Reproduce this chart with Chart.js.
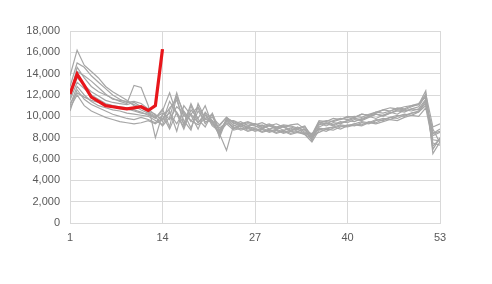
<!DOCTYPE html>
<html>
<head>
<meta charset="utf-8">
<script src="https://cdn.jsdelivr.net/npm/chart.js@4"></script>
<style>
  html, body { margin: 0; padding: 0; background: #fff; }
  #wrap { width: 492px; height: 284px; }
</style>
</head>
<body>
<div id="wrap"><canvas id="chart" width="492" height="284"></canvas></div>
<script>
// week numbers along the x axis
const weeks = Array.from({ length: 53 }, (_, i) => i + 1);
const xTicks = [1, 14, 27, 40, 53];
const yTicks = [0, 2000, 4000, 6000, 8000, 10000, 12000, 14000, 16000, 18000];

// current year (red), only the first 14 weeks
const current = [12100, 13950, 12900, 11800, 11400, 11000, 10900, 10800, 10700, 10800, 10900, 10550, 11000, 16300];

// previous years (grey), weeks 1-53
const yearA = [13800, 16200, 14800, 14200, 13600, 12800, 12300, 11900, 11500, 11000, 10600, 10300, 9900,
    10500, 12200, 10200, 9000, 11000, 9400, 10300, 9100, 8600, 9600,
    9600, 9300, 9500, 9200, 9400, 9100, 9300, 9000, 9200, 9300, 8800, 8300,
    9600, 9500, 9800, 9700, 10000, 9900, 10200, 10100, 10400, 10600, 10500, 10800, 10700, 11000, 11100,
    12400, 6500, 7600];
const yearB = [12800, 15000, 14600, 13800, 13200, 12600, 12000, 11600, 11300, 11400, 11200, 10700, 10100,
    9700, 10800, 11500, 9600, 8700, 11200, 9800, 9400, 8300, 9800,
    9100, 9300, 8900, 9000, 9200, 8800, 9000, 8700, 8900, 8600, 8800, 7700,
    9200, 9400, 9200, 9500, 9400, 9700, 9600, 9900, 10200, 10000, 10300, 10500, 10400, 10700, 10900,
    12000, 7200, 7900];
const yearC = [11800, 14600, 13600, 12800, 12300, 12000, 11700, 11400, 11200, 12900, 12700, 11000, 8000,
    10200, 10600, 11800, 9200, 10200, 10900, 9700, 9900, 9200, 9900,
    9400, 9000, 9300, 9100, 8800, 9200, 8900, 9100, 8700, 9000, 8500, 8000,
    9000, 9300, 9100, 9400, 9600, 9500, 9800, 10000, 9800, 10100, 10400, 10200, 10600, 10500, 10700,
    11600, 8400, 8800];
const yearD = [11500, 13200, 12600, 12000, 11600, 11200, 11000, 10800, 10700, 10500, 10300, 10200, 9800,
    10700, 9000, 11900, 10400, 9500, 10800, 9300, 10200, 8000, 9700,
    8900, 9100, 8700, 8900, 8600, 8800, 8500, 8700, 8400, 8600, 8300, 7600,
    8700, 8900, 9000, 8800, 9100, 9300, 9200, 9500, 9400, 9700, 9900, 9800, 10100, 10300, 10400,
    11300, 8400, 8600];
const yearE = [11000, 12800, 12000, 11400, 11000, 10800, 10600, 10500, 10300, 10200, 10100, 10000, 9600,
    9200, 10500, 8600, 11000, 10100, 8800, 10400, 9600, 8400, 6800,
    9200, 8800, 9000, 8700, 8900, 8600, 8800, 8500, 8700, 8800, 8400, 8100,
    8500, 8800, 8700, 9000, 9200, 9100, 9400, 9300, 9600, 9800, 9700, 10000, 10200, 10100, 10400,
    11000, 8800, 7500];
const yearF = [10500, 12500, 11600, 11100, 10800, 10500, 10200, 10000, 9800, 9700, 9900, 9700, 9400,
    10100, 8800, 10400, 9300, 11200, 9700, 9000, 10300, 8700, 9600,
    8800, 9200, 9000, 9300, 8900, 9100, 8800, 9000, 8600, 8900, 8700, 8200,
    9400, 9100, 9400, 9300, 9600, 9800, 9700, 10000, 10200, 10100, 10300, 10600, 10500, 10700, 10600,
    11200, 7800, 7700];
const yearG = [12000, 13600, 12900, 12300, 11900, 11500, 11300, 11200, 11100, 11300, 10900, 10500, 10200,
    9500, 11400, 10300, 8800, 10600, 9800, 11000, 9200, 9100, 9900,
    9300, 9500, 9100, 9300, 9000, 9200, 8900, 9100, 9000, 8800, 9000, 8200,
    9500, 9300, 9600, 9800, 9700, 9900, 10200, 10100, 10300, 10600, 10800, 10700, 10900, 11000, 11200,
    11800, 6900, 8000];
const yearH = [11200, 12200, 11800, 11500, 11300, 11100, 11000, 10900, 10800, 10600, 10400, 10100, 9900,
    10300, 9700, 10900, 10300, 8900, 10500, 9500, 9600, 8900, 9400,
    9000, 8700, 8900, 8600, 8800, 8500, 8700, 8400, 8600, 8500, 8300, 7900,
    8900, 8800, 9000, 9200, 9100, 9300, 9500, 9400, 9700, 9600, 9900, 10100, 10000, 10300, 10500,
    11500, 8200, 8500];
const yearI = [10800, 12000, 11000, 10500, 10200, 9900, 9700, 9500, 9400, 9300, 9400, 9600, 9300,
    9800, 10300, 9300, 10500, 9600, 9200, 9800, 10200, 8500, 9300,
    8700, 8900, 8600, 8800, 8500, 8700, 8400, 8600, 8300, 8500, 8400, 8400,
    8800, 8600, 8900, 9100, 9000, 9200, 9100, 9400, 9300, 9500, 9700, 9600, 9900, 10100, 10000,
    10800, 7500, 7300];
const yearJ = [11600, 14200, 13800, 13300, 12700, 12100, 11600, 11500, 11400, 11100, 10800, 10400, 10000,
    9100, 9900, 12200, 10000, 10200, 9400, 10100, 9500, 8200, 9800,
    9500, 9200, 9400, 9300, 9100, 9300, 9000, 9200, 9100, 8900, 9100, 8000,
    9400, 9600, 9500, 9700, 9900, 10000, 9900, 10200, 10400, 10300, 10500, 10700, 10600, 10900, 11100,
    12100, 9000, 9300];

const pastYears = [yearA, yearB, yearC, yearD, yearE, yearF, yearG, yearH, yearI, yearJ];

const toPoints = vals => vals.map((v, i) => ({ x: weeks[i], y: v }));

const datasets = [{
    data: toPoints(current),
    borderColor: '#e8161b',
    borderWidth: 3.2,
    pointRadius: 0,
    tension: 0,
    order: 0
}];
pastYears.forEach(vals => {
    datasets.push({
        data: toPoints(vals),
        borderColor: '#a6a6a6',
        borderWidth: 1.2,
        pointRadius: 0,
        tension: 0,
        order: 1
    });
});

const gridColor = '#d9d9d9';
const tickFont = { family: 'Liberation Sans, Arial, sans-serif', size: 11 };

new Chart(document.getElementById('chart'), {
    type: 'line',
    data: { datasets },
    options: {
        responsive: false,
        animation: false,
        layout: { padding: { top: 31, right: 52, bottom: 0, left: 0 } },
        plugins: { legend: { display: false }, tooltip: { enabled: false } },
        scales: {
            x: {
                type: 'linear',
                min: 1,
                max: 53,
                afterBuildTicks: axis => { axis.ticks = xTicks.map(v => ({ value: v })); },
                afterFit: axis => { axis.height = 61; },
                grid: { color: gridColor, drawTicks: false },
                border: { color: gridColor },
                ticks: { color: '#595959', font: tickFont, padding: 8, maxRotation: 0 }
            },
            y: {
                min: 0,
                max: 18000,
                afterBuildTicks: axis => { axis.ticks = yTicks.map(v => ({ value: v })); },
                afterFit: axis => { axis.width = 70; },
                grid: { color: gridColor, drawTicks: false },
                border: { color: gridColor },
                ticks: {
                    color: '#595959',
                    font: tickFont,
                    padding: 10,
                    callback: v => v.toLocaleString('en-US')
                }
            }
        }
    }
});
</script>
</body>
</html>
